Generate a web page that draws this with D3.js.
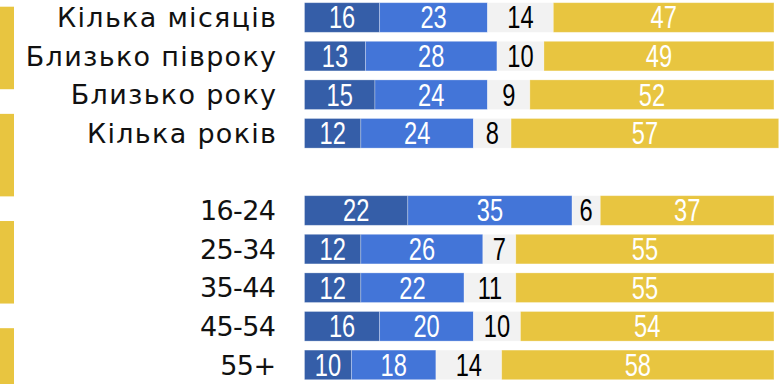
<!DOCTYPE html>
<html>
<head>
<meta charset="utf-8">
<script src="https://cdn.jsdelivr.net/npm/d3@7"></script>
<style>
  html, body { margin: 0; padding: 0; background: #fff; }
  svg { display: block; }
</style>
</head>
<body>
<svg id="chart" width="782" height="384"></svg>
<script>
// Row labels (the empty entry is the gap between the two groups)
const categories = ["Кілька місяців", "Близько півроку", "Близько року", "Кілька років", "",
                    "16-24", "25-34", "35-44", "45-54", "55+"];
const seriesNames = ["s1", "s2", "s3", "s4"];
const s1 = [16, 13, 15, 12, null, 22, 12, 12, 16, 10];
const s2 = [23, 28, 24, 24, null, 35, 26, 22, 20, 18];
const s3 = [14, 10, 9, 8, null, 6, 7, 11, 10, 14];
const s4 = [47, 49, 52, 57, null, 37, 55, 55, 54, 58];
// Partial bars of the neighbouring panel, clipped at the left edge
const edgeBars = ["a", "b", "c", "d"];

const colors = ["#355ea8", "#4375d8", "#f2f2f2", "#e8c540"];
const textColors = ["#ffffff", "#ffffff", "#000000", "#ffffff"];

const svg = d3.select("#chart");

const rows = categories.map((c, i) => ({ cat: c, idx: i, s1: s1[i], s2: s2[i], s3: s3[i], s4: s4[i] }))
  .filter(d => d.s1 !== null);

const x = d3.scaleLinear().domain([0, 100]).range([304.5, 774]);
const y = d3.scaleBand().domain(d3.range(categories.length)).range([2.7, 379.7])
  .paddingInner(0.233).paddingOuter(0);

const stack = d3.stack().keys(seriesNames);
const stacked = stack(rows);

const layers = svg.append("g").selectAll("g").data(stacked).join("g")
  .attr("fill", (d, i) => colors[i]);

layers.selectAll("rect").data(d => d).join("rect")
  .attr("x", d => x(d[0]))
  .attr("y", d => y(d.data.idx))
  .attr("width", d => x(d[1]) - x(d[0]))
  .attr("height", y.bandwidth())
  .attr("stroke", "#ffffff")
  .attr("stroke-opacity", 0.35)
  .attr("stroke-width", 0.8);

// Value labels centred in each segment, horizontally condensed
const narrow = 0.74;
stacked.forEach((layer, li) => {
  svg.append("g").selectAll("text").data(layer).join("text")
    .attr("transform", d => `translate(${(x(d[0]) + x(d[1])) / 2},${y(d.data.idx) + y.bandwidth() / 2}) scale(${narrow},1)`)
    .attr("dy", "0.34em")
    .attr("text-anchor", "middle")
    .attr("fill", textColors[li])
    .style("font-family", "'Liberation Sans', Arial, sans-serif")
    .style("font-size", "32px")
    .text(d => d.data[layer.key]);
});

// Category labels
const yAxis = d3.axisLeft(y).tickSize(0).tickPadding(0).tickFormat(i => categories[i]);
const ax = svg.append("g").attr("transform", "translate(276,0)").call(yAxis);
ax.select(".domain").remove();
ax.selectAll("text")
  .attr("fill", "#111")
  .attr("dy", "0.36em")
  .style("font-family", "'DejaVu Sans', sans-serif")
  .style("font-size", "27px")
  .each(function (i) {
    const wordy = /[^\d\s+\-]/.test(categories[i]);
    d3.select(this)
      .style("letter-spacing", wordy ? "1.3px" : "-0.6px")
      .attr("x", wordy ? 1.3 : -0.6);
  });

// Clipped neighbour bars at the far left
const yEdge = d3.scaleBand().domain(edgeBars).range([6.7, 6.7 + 4 * 101]).paddingInner(0.23).paddingOuter(0);
svg.append("g").selectAll("rect").data(edgeBars).join("rect")
  .attr("x", 0)
  .attr("y", d => yEdge(d))
  .attr("width", 14)
  .attr("height", yEdge.bandwidth())
  .attr("fill", colors[3]);
</script>
</body>
</html>
